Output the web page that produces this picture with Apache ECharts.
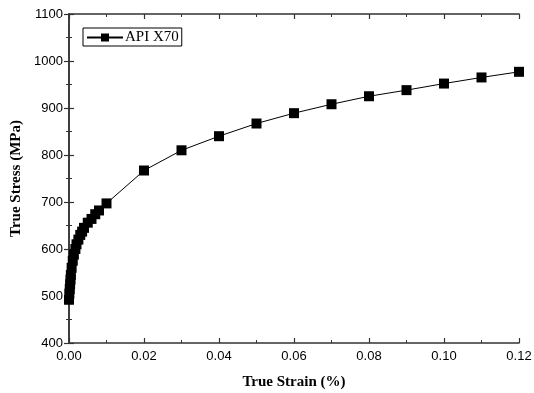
<!DOCTYPE html>
<html>
<head>
<meta charset="utf-8">
<script src="https://cdn.jsdelivr.net/npm/echarts@6/dist/echarts.min.js"></script>
<style>
  html, body { margin: 0; padding: 0; background: #fff; }
  #chart { width: 534px; height: 393px; }
</style>
</head>
<body>
<div id="chart"></div>
<script>
// true strain and true stress
const strain = [0, 0.0001, 0.0002, 0.0003, 0.0004, 0.0005, 0.0007, 0.001, 0.0013, 0.0017,
  0.002, 0.0025, 0.003, 0.0035, 0.004, 0.005, 0.006, 0.007, 0.008, 0.01,
  0.02, 0.03, 0.04, 0.05, 0.06, 0.07, 0.08, 0.09, 0.10, 0.11, 0.12];
const stress = [492, 505, 515, 525, 535, 545, 560, 575, 588, 600,
  610, 620, 630, 637, 645, 656, 664, 674, 682, 697,
  767, 810, 840, 867, 889, 908, 925, 938, 952, 965, 977];
const seriesName = "API X70";

const chart = echarts.init(document.getElementById("chart"));

const axisLine = { lineStyle: { color: "#333", width: 1.5 } };
const tickIn = { inside: true, length: 5, lineStyle: { color: "#333", width: 1.2 } };
const minorIn = { show: true, splitNumber: 2, length: 3, lineStyle: { color: "#333", width: 1 } };
const labelFont = { color: "#000", fontSize: 13, fontFamily: "Liberation Sans, Arial, sans-serif" };
const titleFont = { color: "#000", fontSize: 15, fontWeight: "bold", fontFamily: "Liberation Serif, Times New Roman, serif" };

chart.setOption({
  animation: false,
  grid: { left: 69, right: 15, top: 14, bottom: 50, outerBoundsMode: "none", containLabel: false },
  legend: {
    left: 83,
    top: 28,
    orient: "vertical",
    borderColor: "#000",
    borderWidth: 1,
    borderRadius: 0,
    padding: [2, 3, 1, 3],
    itemWidth: 36,
    itemHeight: 10,
    itemGap: 0,
    textStyle: { color: "#000", fontSize: 15, fontFamily: "Liberation Serif, Times New Roman, serif", padding: [0, 0, 0, -3] },
    data: [seriesName]
  },
  xAxis: [
    {
      type: "value", min: 0, max: 0.12, interval: 0.02,
      name: "True Strain (%)", nameLocation: "middle", nameGap: 32,
      nameTextStyle: titleFont,
      axisLine: axisLine, axisTick: tickIn, minorTick: minorIn,
      splitLine: { show: false },
      axisLabel: Object.assign({ margin: 7, formatter: (v) => v.toFixed(2) }, labelFont)
    },
    {
      type: "value", min: 0, max: 0.12, interval: 0.02, position: "top",
      axisLine: axisLine, axisTick: tickIn, minorTick: minorIn,
      splitLine: { show: false }, axisLabel: { show: false }
    }
  ],
  yAxis: [
    {
      type: "value", min: 400, max: 1100, interval: 100,
      name: "True Stress (MPa)", nameLocation: "middle", nameGap: 44,
      nameTextStyle: titleFont,
      axisLine: axisLine, axisTick: tickIn, minorTick: minorIn,
      splitLine: { show: false },
      axisLabel: Object.assign({ margin: 6, formatter: (v) => String(v) }, labelFont)
    },
    {
      type: "value", min: 400, max: 1100, interval: 100, position: "right",
      axisLine: axisLine, axisTick: tickIn, minorTick: minorIn,
      splitLine: { show: false }, axisLabel: { show: false }
    }
  ],
  series: [
    {
      name: seriesName,
      type: "line",
      data: strain.map((s, i) => [s, stress[i]]),
      symbol: "rect",
      symbolSize: 10,
      itemStyle: { color: "#000" },
      lineStyle: { color: "#000", width: 1 }
    }
  ]
});
</script>
</body>
</html>
